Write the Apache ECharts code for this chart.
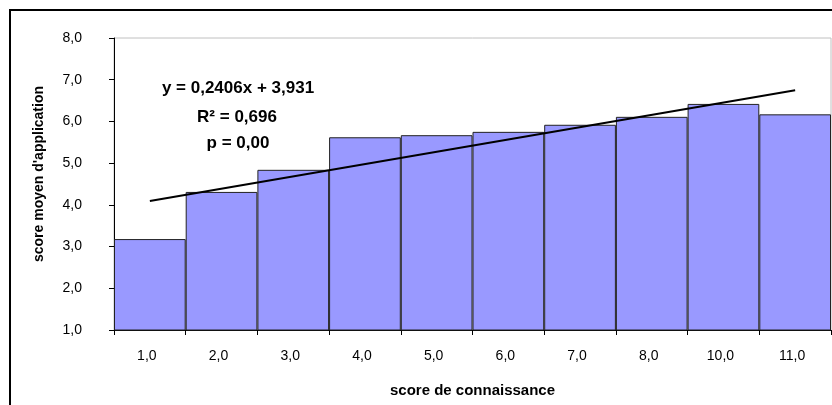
<!DOCTYPE html>
<html>
<head>
<meta charset="utf-8">
<script src="https://cdn.jsdelivr.net/npm/echarts@6/dist/echarts.min.js"></script>
<style>
  html, body { margin: 0; padding: 0; background: #fff; }
  #main { width: 832px; height: 405px; }
</style>
</head>
<body>
<div id="main"></div>
<script>
// categories (score de connaissance) and mean application scores
const categories = ['1,0', '2,0', '3,0', '4,0', '5,0', '6,0', '7,0', '8,0', '10,0', '11,0'];
const scores = [3.18, 4.31, 4.84, 5.62, 5.67, 5.75, 5.92, 6.11, 6.42, 6.17];
// trend line end points (first and last category)
const trend = [4.09, null, null, null, null, null, null, null, null, 6.75];
const yTicks = { min: 1, max: 8, interval: 1 };
const equation = ['y = 0,2406x + 3,931', 'R² = 0,696', 'p = 0,00'];

const chartDom = document.getElementById('main');
let myChart = echarts.init(chartDom);
let option;

const font = 'Liberation Sans, Arial, sans-serif';

option = {
    animation: false,
    grid: {
        left: 114,
        right: 1,
        top: 38,
        bottom: 75,
        show: true,
        borderColor: '#c0c0c0',
        borderWidth: 1,
        backgroundColor: '#fff'
    },
    xAxis: {
        type: 'category',
        data: categories,
        name: 'score de connaissance',
        nameLocation: 'middle',
        nameGap: 53,
        nameTextStyle: { fontFamily: font, fontWeight: 'bold', fontSize: 15, color: '#000' },
        axisLine: { lineStyle: { color: '#000', width: 1 } },
        axisTick: { show: true, length: 5, lineStyle: { color: '#000' } },
        axisLabel: { margin: 19, fontFamily: font, fontSize: 14, color: '#000', padding: [0, 6, 0, 0] },
        splitLine: { show: false }
    },
    yAxis: {
        type: 'value',
        min: yTicks.min,
        max: yTicks.max,
        interval: yTicks.interval,
        name: "score moyen d'application",
        nameLocation: 'middle',
        nameGap: 68,
        nameRotate: 90,
        nameTextStyle: { fontFamily: font, fontWeight: 'bold', fontSize: 14, color: '#000', padding: [0, 0, 0, 20] },
        axisLine: { show: true, lineStyle: { color: '#000', width: 1 } },
        axisTick: { show: true, length: 5, lineStyle: { color: '#000' } },
        axisLabel: {
            margin: 32,
            fontFamily: font,
            fontSize: 14,
            color: '#000',
            formatter: function (v) {
                return v.toFixed(1).replace('.', ',');
            }
        },
        splitLine: { show: false }
    },
    series: [
        {
            type: 'bar',
            data: scores,
            barCategoryGap: '0%',
            itemStyle: { color: '#9999ff', borderColor: '#222', borderWidth: 1 }
        },
        {
            type: 'line',
            data: trend,
            connectNulls: true,
            symbol: 'none',
            lineStyle: { color: '#000', width: 2 },
            z: 5
        }
    ],
    graphic: [
        {
            type: 'rect',
            shape: { x: 10, y: 10, width: 840, height: 420 },
            style: { fill: null, stroke: '#000', lineWidth: 2 },
            silent: true
        },
        {
            type: 'text', x: 238, y: 88,
            style: { text: equation[0], font: 'bold 17px ' + font, fill: '#000', textAlign: 'center', textVerticalAlign: 'middle' }
        },
        {
            type: 'text', x: 237, y: 117,
            style: { text: equation[1], font: 'bold 17px ' + font, fill: '#000', textAlign: 'center', textVerticalAlign: 'middle' }
        },
        {
            type: 'text', x: 238, y: 143,
            style: { text: equation[2], font: 'bold 17px ' + font, fill: '#000', textAlign: 'center', textVerticalAlign: 'middle' }
        }
    ]
};

option && myChart.setOption(option);
</script>
</body>
</html>
